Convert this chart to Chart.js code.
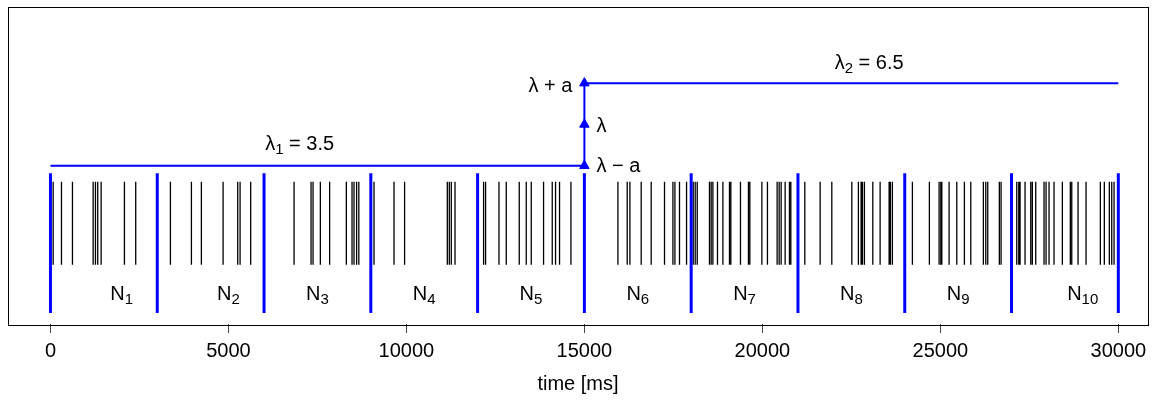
<!DOCTYPE html>
<html>
<head>
<meta charset="utf-8">
<script src="https://cdn.jsdelivr.net/npm/chart.js@4/dist/chart.umd.min.js"></script>
<style>
  html, body { margin: 0; padding: 0; background: #fff; }
</style>
</head>
<body>
<canvas id="spikeChart" width="1157" height="401"></canvas>
<script>
// spike times of the recorded train [ms]
const spikeTimes = [
    76, 309, 618, 1199, 1264, 1328, 1424, 2078, 2395,
    3370, 3960, 4240, 4850, 5260, 5327, 5625,
    6844, 7321, 7377, 7582, 7843, 8312, 8472, 8528, 8601, 8663,
    9090, 9652, 9949, 11149, 11205, 11261, 11365,
    12168, 12224, 12600, 12805, 13170, 13367, 13507, 13853, 14097, 14190, 14302, 14622,
    15942, 16203, 16279, 16596, 16877, 17251, 17487, 17543, 17672, 17870,
    18057, 18113, 18170, 18514, 18562, 18610, 18739, 18891, 19076, 19115, 19385,
    19609, 19648, 19986, 20143, 20415, 20472, 20528, 20640, 20761, 20800,
    21193, 21623, 21951, 22513, 22698, 22774, 22811, 22867, 23103, 23308, 23561, 23597, 23653,
    24215, 24692, 24965, 25013, 25041, 25246, 25462, 25676, 25855, 26209, 26276, 26332, 26658, 26706,
    27147, 27203, 27240, 27380, 27540, 27585, 27680, 27913, 27970, 28054, 28194, 28428,
    28652, 28692, 28869, 29093, 29495, 29607, 29748, 29815, 29880
];

// counting windows
const windowEdges = [0, 3000, 6000, 9000, 12000, 15000, 18000, 21000, 24000, 27000, 30000];
const windowNames = ['1', '2', '3', '4', '5', '6', '7', '8', '9', '10'];
const windowLabelTimes = [2000, 5000, 7500, 10500, 13500, 16500, 19500, 22500, 25500, 29000];

// rates before / after the change point
const changeTime = 15000;
const rate1 = 3.5;
const rate2 = 6.5;
const rateMid = (rate1 + rate2) / 2;
const rateLabelTimes = [7000, 23000];

const xTicks = [0, 5000, 10000, 15000, 20000, 25000, 30000];

// drawing ranges
const X_MIN = -1193, X_MAX = 30834;
const Y_MIN = -2.247, Y_MAX = 9.283;
const SPIKE_TOP = 2.92, SPIKE_BOT = -0.096;
const WIN_TOP = 3.229, WIN_BOT = -1.849;

const FONT = "'Liberation Sans', Arial, Helvetica, sans-serif";
const BLUE = '#0000ff';

// vertical ticks as one broken line
const spikeData = [];
spikeTimes.forEach(t => {
    spikeData.push({x: t, y: SPIKE_BOT}, {x: t, y: SPIKE_TOP}, {x: t, y: null});
});
const windowData = [];
windowEdges.forEach(t => {
    windowData.push({x: t, y: WIN_BOT}, {x: t, y: WIN_TOP}, {x: t, y: null});
});
const rateData = [
    {x: windowEdges[0], y: rate1}, {x: changeTime, y: rate1}, {x: changeTime, y: null},
    {x: changeTime, y: rate2}, {x: windowEdges[windowEdges.length - 1], y: rate2}
];
const arrowData = [
    {x: changeTime, y: rate1}, {x: changeTime, y: rateMid}, {x: changeTime, y: rate2}
];

function drawMath(ctx, parts, x, y, align) {
    let w = 0;
    parts.forEach(p => {
        ctx.font = p[1] + 'px ' + FONT;
        w += ctx.measureText(p[0]).width;
    });
    let cx = align === 'center' ? x - w / 2 : (align === 'right' ? x - w : x);
    ctx.textAlign = 'left';
    ctx.textBaseline = 'alphabetic';
    parts.forEach(p => {
        ctx.font = p[1] + 'px ' + FONT;
        ctx.fillText(p[0], cx, y + (p[2] || 0));
        cx += ctx.measureText(p[0]).width;
    });
}

const frame = {
    id: 'frame',
    afterDraw(chart) {
        const {ctx, chartArea: a} = chart;
        ctx.save();
        ctx.strokeStyle = '#000';
        ctx.lineWidth = 1;
        ctx.strokeRect(Math.round(a.left) + 0.5, Math.round(a.top) + 0.5,
            Math.round(a.right - a.left), Math.round(a.bottom - a.top));
        ctx.restore();
    }
};

const annotations = {
    id: 'annotations',
    afterDatasetsDraw(chart) {
        const {ctx, scales: {x, y}} = chart;
        ctx.save();
        ctx.fillStyle = '#000';

        drawMath(ctx, [['λ', 20], ['1', 15, 4], [' = ' + rate1, 20]],
            x.getPixelForValue(rateLabelTimes[0]), y.getPixelForValue(rate1) - 16, 'center');
        drawMath(ctx, [['λ', 20], ['2', 15, 4], [' = ' + rate2, 20]],
            x.getPixelForValue(rateLabelTimes[1]), y.getPixelForValue(rate2) - 14, 'center');

        const cx = x.getPixelForValue(changeTime);
        drawMath(ctx, [['λ + a', 20]], cx - 12, y.getPixelForValue(rate2) + 9, 'right');
        drawMath(ctx, [['λ', 20]], cx + 12, y.getPixelForValue(rateMid) + 8, 'left');
        drawMath(ctx, [['λ \u2212 a', 20]], cx + 12, y.getPixelForValue(rate1) + 6, 'left');

        const ny = y.getPixelForValue(WIN_BOT) - 13;
        windowNames.forEach((n, i) => {
            drawMath(ctx, [['N', 20], [n, 15, 4]], x.getPixelForValue(windowLabelTimes[i]), ny, 'center');
        });
        ctx.restore();
    }
};

const ctx = document.getElementById('spikeChart').getContext('2d');
const spikeChart = new Chart(ctx, {
    type: 'line',
    data: {
        datasets: [{
            label: 'rate',
            data: rateData,
            borderColor: BLUE,
            borderWidth: 2,
            pointRadius: 0,
            spanGaps: false
        }, {
            label: 'change',
            data: arrowData,
            borderColor: BLUE,
            backgroundColor: BLUE,
            borderWidth: 2,
            pointStyle: 'triangle',
            pointRadius: 5.5,
            pointBorderWidth: 1,
            pointBackgroundColor: BLUE,
            pointBorderColor: BLUE
        }, {
            label: 'windows',
            data: windowData,
            borderColor: BLUE,
            borderWidth: 3,
            borderCapStyle: 'butt',
            pointRadius: 0,
            spanGaps: false
        }, {
            label: 'spikes',
            data: spikeData,
            borderColor: '#000',
            borderWidth: 1.3,
            borderCapStyle: 'butt',
            pointRadius: 0,
            spanGaps: false
        }]
    },
    options: {
        responsive: false,
        animation: false,
        devicePixelRatio: 1,
        layout: {
            padding: {left: 8, right: 9, top: 5, bottom: 0}
        },
        plugins: {
            legend: {display: false},
            tooltip: {enabled: false}
        },
        scales: {
            x: {
                type: 'linear',
                min: X_MIN,
                max: X_MAX,
                afterBuildTicks: axis => {
                    axis.ticks = xTicks.map(v => ({value: v}));
                },
                afterFit: axis => {
                    axis.height = 77;
                },
                border: {display: false},
                grid: {
                    drawOnChartArea: false,
                    drawTicks: true,
                    tickLength: 9,
                    tickColor: '#444',
                    tickWidth: 1
                },
                ticks: {
                    color: '#000',
                    padding: 6,
                    maxRotation: 0,
                    autoSkip: false,
                    font: {family: FONT, size: 20},
                    callback: v => String(v)
                },
                title: {
                    display: true,
                    text: 'time [ms]',
                    color: '#000',
                    font: {family: FONT, size: 20},
                    padding: {top: 0, bottom: 5}
                }
            },
            y: {
                type: 'linear',
                display: false,
                min: Y_MIN,
                max: Y_MAX
            }
        }
    },
    plugins: [frame, annotations]
});
</script>
</body>
</html>
